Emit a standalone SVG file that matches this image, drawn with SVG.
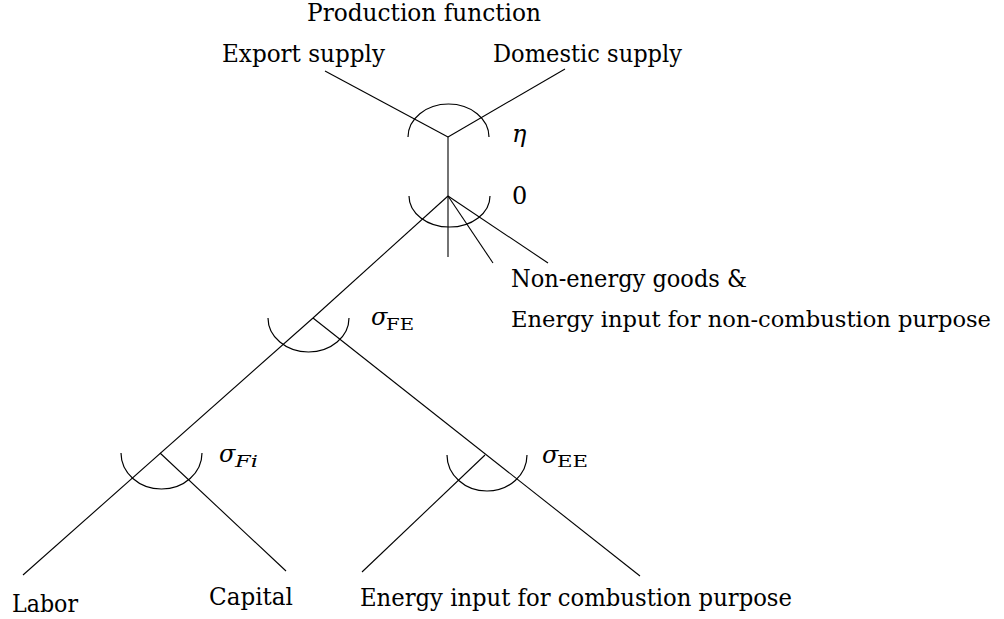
<svg xmlns="http://www.w3.org/2000/svg" width="1004" height="619" viewBox="0 0 1004 619">
<style>
.t{font-family:"DejaVu Serif","Liberation Serif",serif;font-size:24px;fill:#000}
.m{font-family:"DejaVu Serif","Liberation Serif",serif;font-size:24px;font-style:italic;fill:#000}
.s{font-family:"DejaVu Serif","Liberation Serif",serif;font-size:16px;fill:#000}
.si{font-family:"DejaVu Serif","Liberation Serif",serif;font-size:16px;font-style:italic;fill:#000}
.ln{stroke:#000;stroke-width:1.1;fill:none}
.arc{stroke:#000;stroke-width:1.2;fill:none}
</style>
<rect width="1004" height="619" fill="#fff"/>
<g id="connectors" class="ln">
<line x1="325" y1="71" x2="448" y2="137"/>
<line x1="565" y1="69" x2="448" y2="137"/>
<line x1="448" y1="137" x2="448" y2="196"/>
<line x1="448" y1="196" x2="313" y2="318"/>
<line x1="448" y1="196" x2="448" y2="257"/>
<line x1="448" y1="196" x2="493" y2="263"/>
<line x1="448" y1="196" x2="548" y2="263"/>
<line x1="313" y1="318" x2="23" y2="575"/>
<line x1="160" y1="453" x2="286" y2="571"/>
<line x1="313" y1="318" x2="640" y2="576"/>
<line x1="485" y1="455" x2="362" y2="572"/>
</g>
<g id="title"><text class="t" x="307" y="21" textLength="234" lengthAdjust="spacingAndGlyphs">Production function</text></g>
<g id="export"><text class="t" x="222" y="62" textLength="163" lengthAdjust="spacingAndGlyphs">Export supply</text></g>
<g id="domestic"><text class="t" x="493" y="62" textLength="189" lengthAdjust="spacingAndGlyphs">Domestic supply</text></g>
<g id="node-eta">
<path class="arc" d="M408 137 A40.5 33 0 0 1 489 137"/>
<text class="m" x="512" y="142">η</text>
</g>
<g id="node-zero">
<path class="arc" d="M409 196 A40.5 31 0 0 0 490 196"/>
<text class="t" x="512" y="204">0</text>
</g>
<g id="nonenergy">
<text class="t" x="511" y="287" textLength="236" lengthAdjust="spacingAndGlyphs">Non-energy goods &amp;</text>
<text class="t" x="511" y="327" font-size="21.5" textLength="480" lengthAdjust="spacingAndGlyphs" style="font-size:21.5px">Energy input for non-combustion purpose</text>
</g>
<g id="node-fe">
<path class="arc" d="M268 318 A40.5 34 0 0 0 349 318"/>
<text class="m" x="371" y="325">σ</text>
<text class="s" x="386" y="330" textLength="28" lengthAdjust="spacingAndGlyphs">FE</text>
</g>
<g id="node-fi">
<path class="arc" d="M121 453 A40.5 36 0 0 0 202 453"/>
<text class="m" x="219" y="462">σ</text>
<text class="si" x="235" y="467" textLength="23" lengthAdjust="spacingAndGlyphs">Fi</text>
</g>
<g id="node-ee">
<path class="arc" d="M447 455 A40 36 0 0 0 527 455"/>
<text class="m" x="542" y="463">σ</text>
<text class="s" x="557" y="467" textLength="31" lengthAdjust="spacingAndGlyphs">EE</text>
</g>
<g id="labor"><text class="t" x="12" y="612" textLength="66" lengthAdjust="spacingAndGlyphs">Labor</text></g>
<g id="capital"><text class="t" x="209" y="605" textLength="84" lengthAdjust="spacingAndGlyphs">Capital</text></g>
<g id="combustion"><text class="t" x="360" y="606" textLength="432" lengthAdjust="spacingAndGlyphs">Energy input for combustion purpose</text></g>
</svg>
